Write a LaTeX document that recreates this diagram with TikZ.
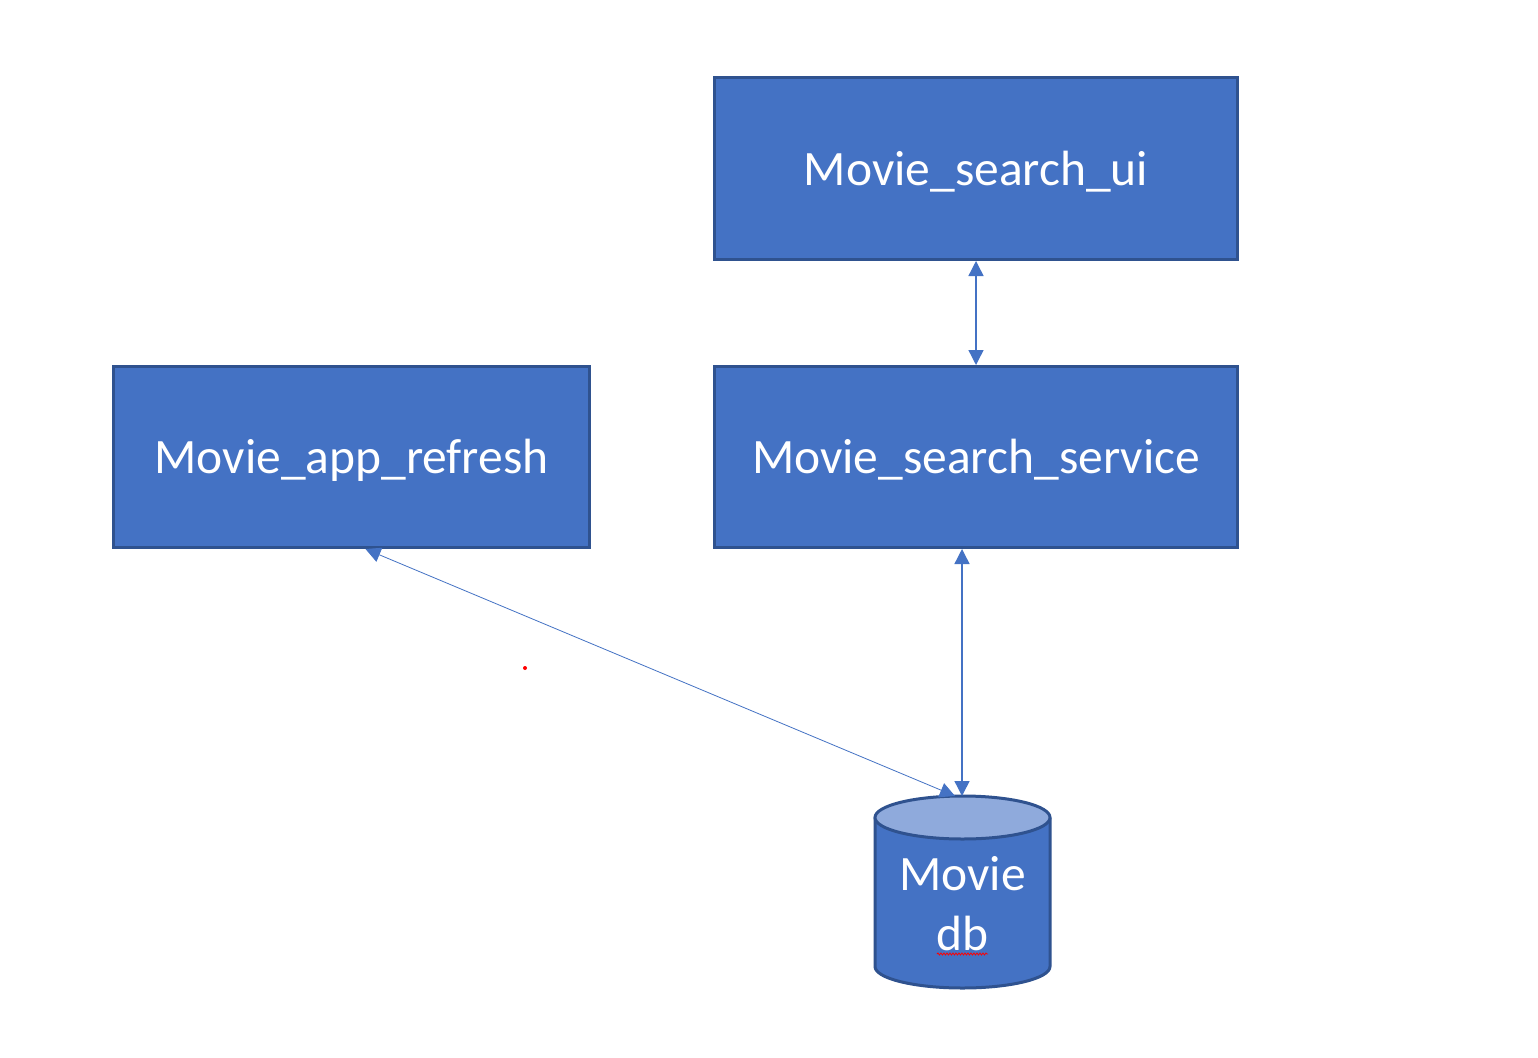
\documentclass[tikz,border=0pt]{standalone}
\usepackage{fontspec}
\setmainfont{Carlito}
\usetikzlibrary{arrows.meta,calc,decorations.pathmorphing}
\definecolor{boxfill}{HTML}{4472C4}
\definecolor{boxline}{HTML}{2F528F}
\definecolor{dbtopfill}{HTML}{8FAADC}
\begin{document}
\begin{tikzpicture}[x=1pt,y=-1pt,
  box/.style={draw=boxline, line width=3pt, fill=boxfill, text=white,
    font=\fontsize{49.5}{60}\selectfont, text height=33pt, text depth=0pt, inner sep=0pt},
  link/.style={draw=boxfill, line width=1.4pt,
    {Triangle[length=15pt,width=15pt]}-{Triangle[length=15pt,width=15pt]}},
  dbshape/.style={draw=boxline, line width=3pt}]
\useasboundingbox[fill=white] (0,0) rectangle (1538,1057);
% boxes
\node[box, minimum width=523pt, minimum height=182pt] (ui) at (976,168.5) {Movie\_search\_ui};
\node[box, minimum width=523pt, minimum height=181pt] (service) at (976,457) {Movie\_search\_service};
\node[box, minimum width=476pt, minimum height=181pt] (refresh) at (351.5,457) {Movie\_app\_refresh};
% cylinder
\path[dbshape, fill=boxfill] (875,817.5) -- (875,966.5)
  arc[start angle=180, end angle=360, x radius=87.5pt, y radius=21.5pt] -- (1050,817.5);
\path[dbshape, fill=dbtopfill] (962.5,817.5) ellipse [x radius=87.5pt, y radius=21.5pt];
\node[text=white, align=center, font=\fontsize{49.5}{60}\selectfont, anchor=base, inner sep=0pt] (db) at (962.5,950) {Movie\\db};
\coordinate (dbtop) at (962,796);
\coordinate (dbtopl) at (955,796);
% connectors
\draw[link] (ui.south) -- (service.north);
\draw[link] (service.south -| dbtop) -- (dbtop);
\draw[link, line width=0.8pt] ($(refresh.south)+(14,0)$) -- (dbtopl);
% stray marks
\fill[red] (525,668) circle (2pt);
\draw[red, line width=0.8pt, decorate, decoration={snake, amplitude=1pt, segment length=3pt}] (937,954) -- (988,954);
\end{tikzpicture}
\end{document}
